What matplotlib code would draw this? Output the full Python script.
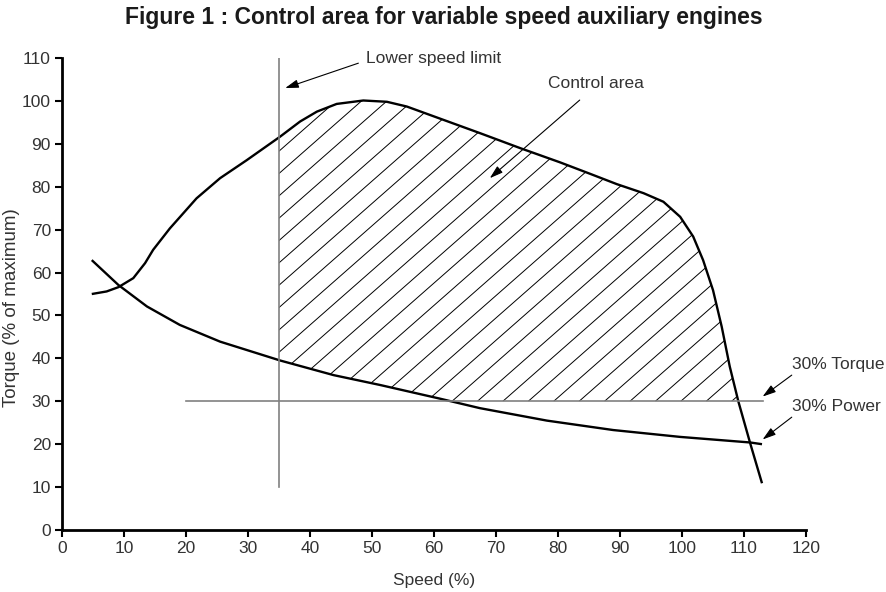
import numpy as np
import matplotlib
matplotlib.use("Agg")
import matplotlib.pyplot as plt
from matplotlib.patches import Polygon
from matplotlib.collections import LineCollection

plt.rcParams["font.family"] = ["Liberation Sans", "DejaVu Sans"]

# Full-load torque curve (speed %, torque %)
full_speed = [4.8, 7.2, 9.1, 11.5, 13.4, 14.7, 17.4, 21.7, 25.5, 29.8, 35.2, 38.4,
              41.1, 44.3, 48.6, 52.4, 55.6, 61.5, 67.4, 73.9, 80.3, 85.2, 89.5,
              93.8, 97.0, 99.7, 101.8, 103.4, 105.0, 106.4, 107.7, 109.1, 111.0, 112.9]
full_torque = [55.0, 55.6, 56.6, 58.7, 62.2, 65.3, 70.3, 77.3, 82.0, 86.2, 91.7, 95.2,
               97.5, 99.3, 100.1, 99.8, 98.7, 95.6, 92.5, 89.0, 85.7, 83.0, 80.6,
               78.5, 76.5, 73.0, 68.4, 62.9, 55.9, 47.4, 38.1, 29.9, 20.2, 10.9]

# 30% power curve
power_speed = [4.8, 9.1, 13.7, 19.0, 25.5, 35.2, 43.8, 51.3, 61.0, 67.4, 78.2,
               88.9, 99.7, 111.0, 112.9]
power_torque = [62.9, 57.1, 52.1, 47.8, 43.9, 39.5, 36.1, 33.8, 30.6, 28.4, 25.5,
                23.3, 21.7, 20.4, 20.0]

lower_speed_limit = 35
torque_limit = 30

xs = np.linspace(lower_speed_limit, 109.1, 400)
top = np.interp(xs, full_speed, full_torque)
bottom = np.maximum(np.interp(xs, power_speed, power_torque), torque_limit)

fig = plt.figure(figsize=(8.87, 5.92), dpi=100)
ax = fig.add_axes([0.0699, 0.1047, 0.8388, 0.7973])

text_color = "#333333"
grey = "#808080"

# control area outline, used as clip path for the hatching
poly_x = np.concatenate([xs, xs[::-1]])
poly_y = np.concatenate([top, bottom[::-1]])
area = Polygon(np.column_stack([poly_x, poly_y]), closed=True,
               facecolor="none", edgecolor="none")
ax.add_patch(area)

slope = 1.27
step = 4.1
starts = np.arange(62.9 - 20 * step, 115, step)
segs = [[(x0, torque_limit), (x0 + 90 / slope, torque_limit + 90)] for x0 in starts]
hatch = LineCollection(segs, colors="black", linewidths=0.7)
ax.add_collection(hatch)
hatch.set_clip_path(area)

ax.plot(full_speed, full_torque, color="black", lw=1.7, solid_capstyle="butt",
        solid_joinstyle="round")
ax.plot(power_speed, power_torque, color="black", lw=1.7, solid_capstyle="butt",
        solid_joinstyle="round")
ax.plot([lower_speed_limit, lower_speed_limit], [10, 110], color=grey, lw=1.2)
ax.plot([20, 113], [torque_limit, torque_limit], color=grey, lw=1.2)

arrow = dict(arrowstyle="-|>,head_length=0.8,head_width=0.25", color="black",
             lw=0.8, shrinkA=0, shrinkB=0)
ax.annotate("", xy=(36.0, 103.0), xytext=(47.8, 108.8), arrowprops=arrow)
ax.text(49.1, 110, "Lower speed limit", fontsize=12.5, color=text_color,
        ha="left", va="center")
ax.annotate("", xy=(69.0, 82.0), xytext=(83.5, 100.2), arrowprops=arrow)
ax.text(86.1, 104.1, "Control area", fontsize=12.5, color=text_color,
        ha="center", va="center")
ax.annotate("", xy=(113.0, 31.1), xytext=(117.7, 36.1), arrowprops=arrow)
ax.text(117.7, 38.6, "30% Torque", fontsize=12.5, color=text_color,
        ha="left", va="center")
ax.annotate("", xy=(113.0, 21.1), xytext=(117.7, 26.3), arrowprops=arrow)
ax.text(117.7, 28.8, "30% Power", fontsize=12.5, color=text_color,
        ha="left", va="center")

ax.set_xlim(0, 120)
ax.set_ylim(0, 110)
ax.set_xticks(range(0, 121, 10))
ax.set_yticks(range(0, 111, 10))
for side in ("top", "right"):
    ax.spines[side].set_visible(False)
for side in ("left", "bottom"):
    ax.spines[side].set_linewidth(2)
ax.tick_params(direction="out", length=5, width=1.5, labelsize=12.5,
               labelcolor=text_color, pad=3)

ax.set_xlabel("Speed (%)", fontsize=12.5, color=text_color, labelpad=12)
ax.set_ylabel("Torque (% of maximum)", fontsize=13.5, color=text_color)
ax.yaxis.set_label_coords(-0.057, 0.472)
fig.suptitle("Figure 1 : Control area for variable speed auxiliary engines",
             fontsize=16.5, fontweight="bold", color="#1a1a1a", y=0.99)

fig.savefig("out.png", dpi=100)
